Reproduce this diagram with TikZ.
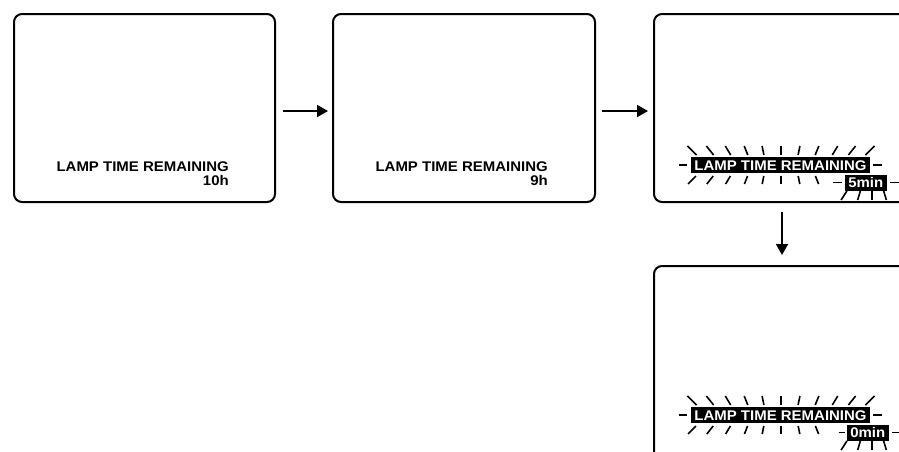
\documentclass[tikz,border=0pt]{standalone}
\usepackage{graphicx}
\usepackage{fontspec}
\setmainfont{Liberation Sans}
\usetikzlibrary{arrows.meta}
\tikzset{
  screen/.style={draw=black, line width=2pt, rounded corners=8pt, inner sep=0pt},
  flowarrow/.style={line width=1.8pt, -{Triangle[length=11pt,width=12pt]}},
  lamptext/.style={font=\fontsize{14}{14}\selectfont\bfseries, inner sep=0pt},
  hilite/.style={fill=black, text=white, font=\fontsize{14}{14}\selectfont\bfseries,
    inner xsep=3.5pt, inner ysep=3pt, text height=10pt, text depth=0pt},
  dashsty/.style={line width=1.8pt},
  ray/.style={line width=1.6pt},
}
\newcommand{\wide}[1]{\scalebox{1.07}[1]{#1}}
\newcommand{\raysrow}[5]{%
  \foreach \m in {#5}{%
    \pgfmathsetmacro{\ymid}{(#1+#2)/2}%
    \pgfmathsetmacro{\slp}{(\m-#3)/(\ymid-#4)}%
    \draw[ray] ({\m+(#1-\ymid)*\slp},#1) -- ({\m+(#2-\ymid)*\slp},#2);
  }}
\begin{document}
\begin{tikzpicture}[x=1pt,y=-1pt]
\useasboundingbox (0,0) rectangle (899,451);
\clip (0,0) rectangle (899,451);

% screens
\node[screen, minimum width=261pt, minimum height=188pt] (b1) at (144.5,108) {};
\node[screen, minimum width=262pt, minimum height=188pt] (b2) at (464,108) {};
\node[screen, minimum width=275pt, minimum height=188pt] (b3) at (791.5,108) {};
\node[screen, minimum width=275pt, minimum height=213pt] (b4) at (791.5,372.5) {};

% arrows
\draw[flowarrow] ([xshift=7pt,yshift=-3pt]b1.east) -- ([xshift=-4pt,yshift=-3pt]b2.west);
\draw[flowarrow] ([xshift=6pt,yshift=-3pt]b2.east) -- ([xshift=-5pt,yshift=-3pt]b3.west);
\draw[flowarrow] ([xshift=-9.5pt,yshift=-9pt]b3.south) -- ([xshift=-9.5pt,yshift=10pt]b4.north);

% screen 1
\node[lamptext, anchor=base east] (t1a) at (229,171.5) {\wide{LAMP TIME REMAINING}};
\node[lamptext, anchor=base east] (t1b) at (229,185) {\wide{10h}};

% screen 2
\node[lamptext, anchor=base east] (t2a) at (548,171.5) {\wide{LAMP TIME REMAINING}};
\node[lamptext, anchor=base east] (t2b) at (548,185.5) {\wide{9h}};

% screen 3
\node[hilite] (m3) at (780.5,165) {\wide{LAMP TIME REMAINING}};
\node[hilite, anchor=east] (n3) at (887,182.5) {\wide{5min}};
\draw[dashsty] ([xshift=-12pt]m3.west) -- ([xshift=-4pt]m3.west);
\draw[dashsty] ([xshift=3pt]m3.east) -- ([xshift=12pt]m3.east);
\draw[dashsty] ([xshift=-12pt]n3.west) -- ([xshift=-3pt]n3.west);
\draw[dashsty] ([xshift=3pt]n3.east) -- ([xshift=16pt]n3.east);
\raysrow{146}{155}{781}{239}{692,710,728,746,763,781,799,817,835,852,870}
\raysrow{176}{184}{781}{90}{692,710,728,746,763,781,799,817}
\raysrow{191}{200}{872}{152}{844,859,872,885}

% screen 4
\node[hilite] (m4) at (780.5,415) {\wide{LAMP TIME REMAINING}};
\node[hilite, anchor=east] (n4) at (889,432.5) {\wide{0min}};
\draw[dashsty] ([xshift=-12pt]m4.west) -- ([xshift=-4pt]m4.west);
\draw[dashsty] ([xshift=3pt]m4.east) -- ([xshift=12pt]m4.east);
\draw[dashsty] ([xshift=-8pt]n4.west) -- ([xshift=-2pt]n4.west);
\draw[dashsty] ([xshift=3pt]n4.east) -- ([xshift=16pt]n4.east);
\raysrow{396}{405}{781}{489}{692,710,728,746,763,781,799,817,835,852,870}
\raysrow{426}{434}{781}{340}{692,710,728,746,763,781,799,817}
\raysrow{441}{450}{872}{402}{844,859,872,885}
\end{tikzpicture}
\end{document}
